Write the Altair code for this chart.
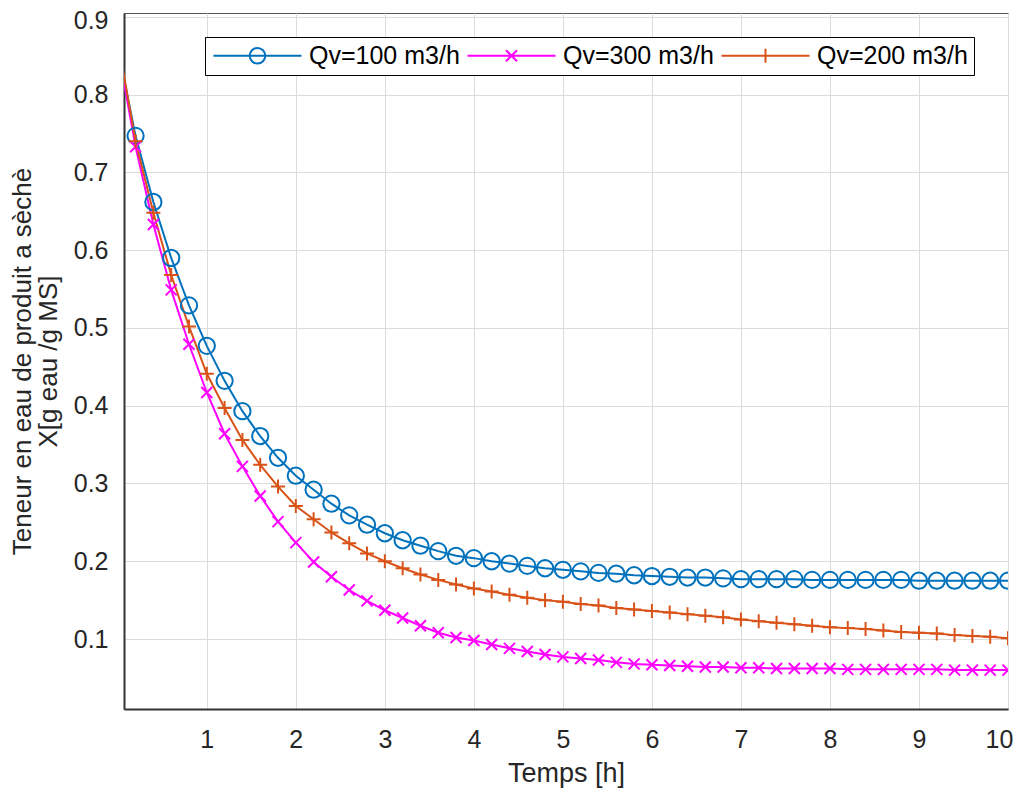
import altair as alt
import pandas as pd

# ---- data ----
series_names = ["Qv=100 m3/h", "Qv=300 m3/h", "Qv=200 m3/h"]
series_colors = ["#0072BD", "#FF00FF", "#D95319"]

temps_h = [0.0, 0.2, 0.4, 0.6, 0.8, 1.0, 1.2, 1.4, 1.6, 1.8,
           2.0, 2.2, 2.4, 2.6, 2.8, 3.0, 3.2, 3.4, 3.6, 3.8,
           4.0, 4.2, 4.4, 4.6, 4.8, 5.0, 5.2, 5.4, 5.6, 5.8,
           6.0, 6.2, 6.4, 6.6, 6.8, 7.0, 7.2, 7.4, 7.6, 7.8,
           8.0, 8.2, 8.4, 8.6, 8.8, 9.0, 9.2, 9.4, 9.6, 9.8, 10.0]

x_qv100 = [0.860, 0.747, 0.662, 0.590, 0.529, 0.477, 0.432, 0.393, 0.361, 0.333,
           0.310, 0.292, 0.274, 0.259, 0.247, 0.236, 0.227, 0.220, 0.213, 0.207,
           0.204, 0.200, 0.197, 0.194, 0.191, 0.189, 0.187, 0.185, 0.184, 0.182,
           0.181, 0.180, 0.179, 0.179, 0.178, 0.177, 0.177, 0.177, 0.177, 0.176,
           0.176, 0.176, 0.176, 0.176, 0.176, 0.175, 0.175, 0.175, 0.175, 0.175, 0.175]

x_qv300 = [0.860, 0.733, 0.633, 0.549, 0.479, 0.417, 0.364, 0.322, 0.284, 0.251,
           0.224, 0.199, 0.180, 0.163, 0.149, 0.137, 0.127, 0.117, 0.108, 0.102,
           0.098, 0.093, 0.088, 0.084, 0.080, 0.077, 0.075, 0.073, 0.070, 0.068,
           0.067, 0.066, 0.065, 0.064, 0.064, 0.063, 0.063, 0.062, 0.062, 0.062,
           0.062, 0.061, 0.061, 0.061, 0.061, 0.061, 0.061, 0.060, 0.060, 0.060, 0.060]

x_qv200 = [0.870, 0.740, 0.648, 0.568, 0.502, 0.441, 0.397, 0.356, 0.324, 0.296,
           0.271, 0.254, 0.237, 0.223, 0.210, 0.200, 0.191, 0.183, 0.176, 0.170,
           0.165, 0.161, 0.157, 0.153, 0.150, 0.148, 0.145, 0.143, 0.140, 0.138,
           0.136, 0.134, 0.132, 0.130, 0.128, 0.125, 0.123, 0.121, 0.119, 0.117,
           0.115, 0.114, 0.113, 0.111, 0.109, 0.108, 0.107, 0.105, 0.104, 0.103, 0.101]

x_ticks = [1, 2, 3, 4, 5, 6, 7, 8, 9, 10]
y_ticks = [0.1, 0.2, 0.3, 0.4, 0.5, 0.6, 0.7, 0.8, 0.9]

# ---- table ----
rows = []
for name, vals in zip(series_names, [x_qv100, x_qv300, x_qv200]):
    for t, v in zip(temps_h, vals):
        rows.append({"t": t, "X": v, "series": name})
df = pd.DataFrame(rows)

FONT = "Liberation Sans"
TXT = "#262626"

x_enc = alt.X("t:Q", scale=alt.Scale(domain=[0.07, 10.0], nice=False, zero=False),
              axis=alt.Axis(values=x_ticks, format="d", title="Temps [h]",
                            labelFlush=False,
                            labelOffset=alt.ConditionalAxisNumber(
                                condition={"test": "datum.value == 10", "value": -9},
                                value=0)))
y_enc = alt.Y("X:Q", scale=alt.Scale(domain=[0.01, 0.905], nice=False, zero=False),
              axis=alt.Axis(values=y_ticks, format=".1f", labelFlush=False,
                            labelOffset=alt.ConditionalAxisNumber(
                                condition={"test": "datum.value > 0.85", "value": 4},
                                value=0),
                            title=["Teneur en eau de produit a sèchè", "X[g eau /g MS]"]))

color_scale = alt.Scale(domain=series_names, range=series_colors)

legend_paths = [
    "M-4.4,0L4.4,0M0.78,0A0.78,0.78,0,1,1,-0.78,0A0.78,0.78,0,1,1,0.78,0",
    "M-4.4,0L4.4,0M-0.55,-0.55L0.55,0.55M-0.55,0.55L0.55,-0.55",
    "M-4.4,0L4.4,0M0,-0.7L0,0.7",
]

leg = alt.Legend(
    title=None, orient="none", legendX=81, legendY=24,
    direction="horizontal", columns=3,
    labelFont=FONT, labelFontSize=25, labelColor="#000000",
    symbolSize=400, symbolOffset=34, labelOffset=39, columnPadding=3,
    symbolStrokeWidth=2, symbolFillColor="transparent",
    strokeColor="#000000", fillColor="#ffffff", padding=6,
)

# legend-only layer (no marks drawn), placed first so its legend settings win
legend_layer = alt.Chart(df).transform_filter("false").mark_point(
    filled=False, strokeWidth=2, size=400, opacity=1
).encode(
    x=x_enc, y=y_enc,
    color=alt.Color("series:N", scale=color_scale, legend=leg),
    shape=alt.Shape("series:N", scale=alt.Scale(domain=series_names, range=legend_paths), legend=leg),
)

lines = alt.Chart(df).mark_line(strokeWidth=2, clip=True).encode(
    x=x_enc, y=y_enc,
    color=alt.Color("series:N", scale=color_scale, legend=None),
    detail="series:N",
)

marker_shapes = {
    "Qv=100 m3/h": ("circle", 265),
    "Qv=300 m3/h": ("M-1,-1L1,1M-1,1L1,-1", 121),
    "Qv=200 m3/h": ("M-1,0L1,0M0,-1L0,1", 196),
}

point_layers = []
for name in series_names:
    shp, sz = marker_shapes[name]
    point_layers.append(
        alt.Chart(df).transform_filter(alt.datum.series == name)
        .transform_filter(alt.datum.t > 0.1)
        .mark_point(shape=shp, size=sz, filled=False, strokeWidth=2, opacity=1, clip=True)
        .encode(x=x_enc, y=y_enc,
                color=alt.Color("series:N", scale=color_scale, legend=None))
    )

chart = alt.layer(legend_layer, lines, *point_layers).properties(
    width=884, height=696,
    autosize=alt.AutoSizeParams(type="none"),
    padding={"left": 116, "top": 5, "right": 6, "bottom": 80},
).configure_view(
    stroke="#555555", strokeWidth=1
).configure_axis(
    labelFont=FONT, titleFont=FONT, labelFontSize=25,
    labelColor=TXT, titleColor=TXT, titleFontWeight="normal",
    gridColor="#dcdcdc", gridWidth=1, domainColor="#333333", domainWidth=2,
    ticks=False,
).configure_axisX(
    labelPadding=18, titleFontSize=27, titlePadding=8,
).configure_axisY(
    labelPadding=16, titleFontSize=26, titleLineHeight=26, titlePadding=12,
)

chart.save("out.html", embed_options={"renderer": "svg", "actions": False})
